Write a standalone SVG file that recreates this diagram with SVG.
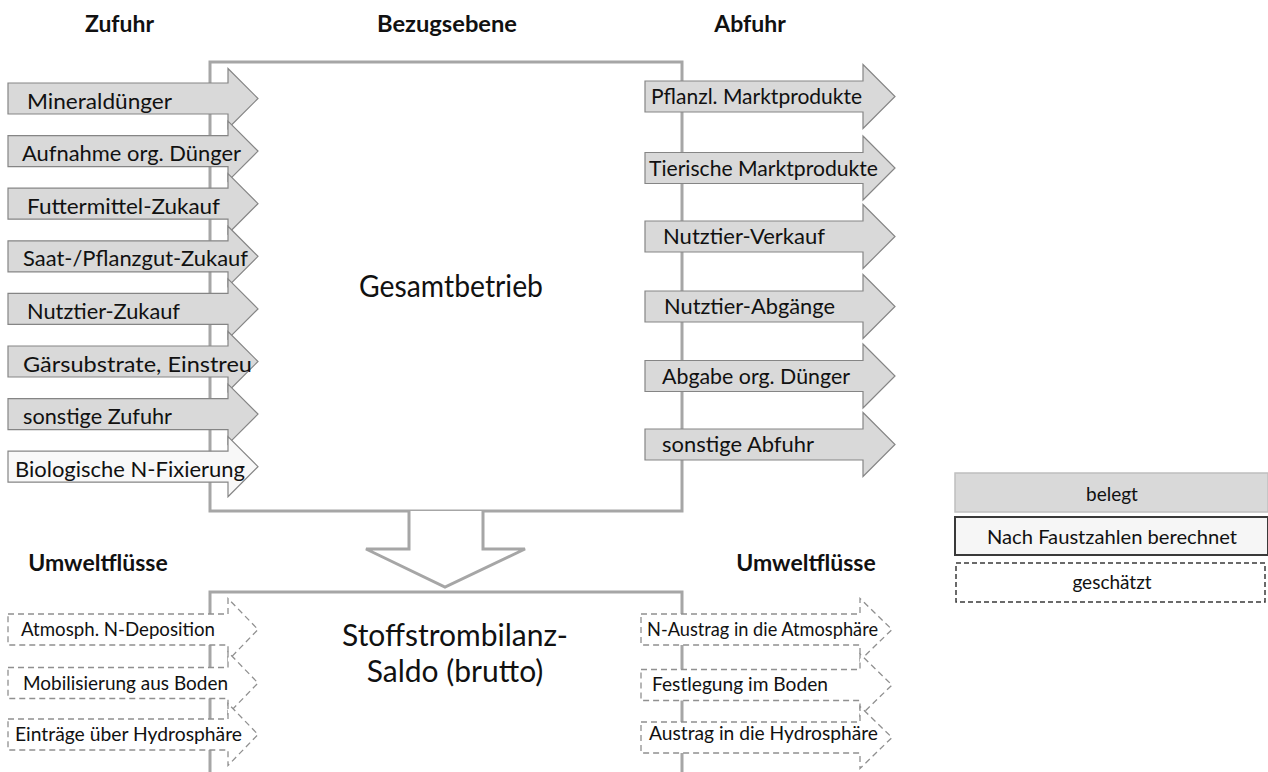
<svg xmlns="http://www.w3.org/2000/svg" width="1268" height="772" viewBox="0 0 1268 772">
<style>
  text { font-family: Lato, "Open Sans", "Liberation Sans", sans-serif; fill: #111; }
  .h { font-weight: bold; font-size: 23px; text-anchor: middle; }
  .lbl { font-size: 22px; }
  .sm { font-size: 19px; }
  .big { font-size: 30px; text-anchor: middle; }
  .leg { font-size: 19px; text-anchor: middle; }
  .frame { fill: none; stroke: #a6a6a6; stroke-width: 3; }
  .solid { fill: #d9d9d9; stroke: #858585; stroke-width: 1.2; }
  .calc { fill: #f8f8f8; stroke: #858585; stroke-width: 1.2; }
  .dash { fill: #ffffff; stroke: #909090; stroke-width: 1.3; stroke-dasharray: 6 4; }
</style>

<g id="headings">
  <text class="h" x="119.5" y="32" textLength="69" lengthAdjust="spacingAndGlyphs">Zufuhr</text>
  <text class="h" x="447" y="32" textLength="140" lengthAdjust="spacingAndGlyphs">Bezugsebene</text>
  <text class="h" x="750" y="32">Abfuhr</text>
  <text class="h" x="98" y="571">Umweltflüsse</text>
  <text class="h" x="806" y="571">Umweltflüsse</text>
</g>

<g id="connectors">
  <rect class="frame" x="210" y="62" width="472" height="449"/>
  <path class="frame" d="M210,772 V592 H682 V772"/>
  <path class="frame" style="fill:#fff" d="M409,511 V549 H366 L445,587 L525,549 H483 V511"/>
</g>

<g id="gesamtbetrieb">
  <text class="big" x="451" y="297" textLength="184" lengthAdjust="spacingAndGlyphs">Gesamtbetrieb</text>
</g>
<g id="saldo">
  <text class="big" x="455" y="646">Stoffstrombilanz-</text>
  <text class="big" x="455" y="682">Saldo (brutto)</text>
</g>

<g id="in-mineralduenger">
  <path class="solid" d="M8,83 H228 V68.5 L258,98.5 L228,128.5 V114 H8 Z"/>
  <text class="lbl" x="27" y="108.5" textLength="145" lengthAdjust="spacingAndGlyphs">Mineraldünger</text>
</g>
<g id="in-org-duenger">
  <path class="solid" d="M8,135.6 H228 V121.1 L258,151.1 L228,181.1 V166.6 H8 Z"/>
  <text class="lbl" x="22" y="161.1" textLength="219" lengthAdjust="spacingAndGlyphs">Aufnahme org. Dünger</text>
</g>
<g id="in-futtermittel">
  <path class="solid" d="M8,188.2 H228 V173.7 L258,203.7 L228,233.7 V219.2 H8 Z"/>
  <text class="lbl" x="27" y="213.7" textLength="193" lengthAdjust="spacingAndGlyphs">Futtermittel-Zukauf</text>
</g>
<g id="in-saatgut">
  <path class="solid" d="M8,240.8 H228 V226.3 L258,256.3 L228,286.3 V271.8 H8 Z"/>
  <text class="lbl" x="23" y="266.3" textLength="225" lengthAdjust="spacingAndGlyphs">Saat-/Pflanzgut-Zukauf</text>
</g>
<g id="in-nutztier">
  <path class="solid" d="M8,293.4 H228 V278.9 L258,308.9 L228,338.9 V324.4 H8 Z"/>
  <text class="lbl" x="27" y="318.9" textLength="153" lengthAdjust="spacingAndGlyphs">Nutztier-Zukauf</text>
</g>
<g id="in-gaersubstrate">
  <path class="solid" d="M8,346 H228 V331.5 L258,361.5 L228,391.5 V377 H8 Z"/>
  <text class="lbl" x="23" y="371.5" textLength="229" lengthAdjust="spacingAndGlyphs">Gärsubstrate, Einstreu</text>
</g>
<g id="in-sonstige">
  <path class="solid" d="M8,398.6 H228 V384.1 L258,414.1 L228,444.1 V429.6 H8 Z"/>
  <text class="lbl" x="23" y="424.1" textLength="149" lengthAdjust="spacingAndGlyphs">sonstige Zufuhr</text>
</g>
<g id="in-n-fixierung">
  <path class="calc" d="M8,451.2 H228 V436.7 L258,466.7 L228,496.7 V482.2 H8 Z"/>
  <text class="lbl" x="15" y="476.7" textLength="230" lengthAdjust="spacingAndGlyphs">Biologische N-Fixierung</text>
</g>

<g id="out-pflanzl">
  <path class="solid" d="M645,81 H863 V64.5 L895,96.5 L863,128.5 V112 H645 Z"/>
  <text class="lbl" x="651" y="104" textLength="211" lengthAdjust="spacingAndGlyphs">Pflanzl. Marktprodukte</text>
</g>
<g id="out-tierisch">
  <path class="solid" d="M645,152.5 H863 V136 L895,168 L863,200 V183.5 H645 Z"/>
  <text class="lbl" x="649" y="175.5" textLength="229" lengthAdjust="spacingAndGlyphs">Tierische Marktprodukte</text>
</g>
<g id="out-verkauf">
  <path class="solid" d="M645,221 H863 V204.5 L895,236.5 L863,268.5 V252 H645 Z"/>
  <text class="lbl" x="663" y="244" textLength="162" lengthAdjust="spacingAndGlyphs">Nutztier-Verkauf</text>
</g>
<g id="out-abgaenge">
  <path class="solid" d="M645,291 H863 V274.5 L895,306.5 L863,338.5 V322 H645 Z"/>
  <text class="lbl" x="664" y="314" textLength="171" lengthAdjust="spacingAndGlyphs">Nutztier-Abgänge</text>
</g>
<g id="out-org-duenger">
  <path class="solid" d="M645,360.5 H863 V344 L895,376 L863,408 V391.5 H645 Z"/>
  <text class="lbl" x="662" y="383.5" textLength="188" lengthAdjust="spacingAndGlyphs">Abgabe org. Dünger</text>
</g>
<g id="out-sonstige">
  <path class="solid" d="M645,429 H863 V412.5 L895,444.5 L863,476.5 V460 H645 Z"/>
  <text class="lbl" x="662" y="452" textLength="152" lengthAdjust="spacingAndGlyphs">sonstige Abfuhr</text>
</g>

<g id="env-in-deposition">
  <path class="dash" d="M8,614 H228 V598.5 L258,629.5 L228,660.5 V645 H8 Z"/>
  <text class="sm" x="21" y="636" textLength="194" lengthAdjust="spacingAndGlyphs">Atmosph. N-Deposition</text>
</g>
<g id="env-in-mobilisierung">
  <path class="dash" d="M8,667.5 H228 V652 L258,683 L228,714 V698.5 H8 Z"/>
  <text class="sm" x="23" y="690" textLength="205" lengthAdjust="spacingAndGlyphs">Mobilisierung aus Boden</text>
</g>
<g id="env-in-hydrosphaere">
  <path class="dash" d="M8,719 H228 V703.5 L258,734.5 L228,765.5 V750 H8 Z"/>
  <text class="sm" x="15" y="741" textLength="227" lengthAdjust="spacingAndGlyphs">Einträge über Hydrosphäre</text>
</g>

<g id="env-out-atmosphaere">
  <path class="dash" d="M641,614 H860 V598.5 L892,629.5 L860,660.5 V645 H641 Z"/>
  <text class="sm" x="647" y="636" textLength="231" lengthAdjust="spacingAndGlyphs">N-Austrag in die Atmosphäre</text>
</g>
<g id="env-out-festlegung">
  <path class="dash" d="M641,669.5 H860 V654 L892,685 L860,716 V700.5 H641 Z"/>
  <text class="sm" x="652" y="691" textLength="176" lengthAdjust="spacingAndGlyphs">Festlegung im Boden</text>
</g>
<g id="env-out-hydrosphaere">
  <path class="dash" d="M641,722 H860 V706.5 L892,737.5 L860,768.5 V753 H641 Z"/>
  <text class="sm" x="649" y="740" textLength="229" lengthAdjust="spacingAndGlyphs">Austrag in die Hydrosphäre</text>
</g>

<g id="legend-belegt">
  <rect x="955" y="473" width="313" height="39" fill="#d9d9d9" stroke="#bfbfbf" stroke-width="1.5"/>
  <text class="leg" x="1112" y="501">belegt</text>
</g>
<g id="legend-faustzahlen">
  <rect x="955" y="517" width="313" height="38" fill="#f6f6f6" stroke="#3a3a3a" stroke-width="2"/>
  <text class="leg" x="1112" y="544" textLength="250" lengthAdjust="spacingAndGlyphs">Nach Faustzahlen berechnet</text>
</g>
<g id="legend-geschaetzt">
  <rect x="956" y="563" width="309" height="39" fill="#ffffff" stroke="#3a3a3a" stroke-width="1.5" stroke-dasharray="5 3"/>
  <text class="leg" x="1112" y="589">geschätzt</text>
</g>
</svg>
